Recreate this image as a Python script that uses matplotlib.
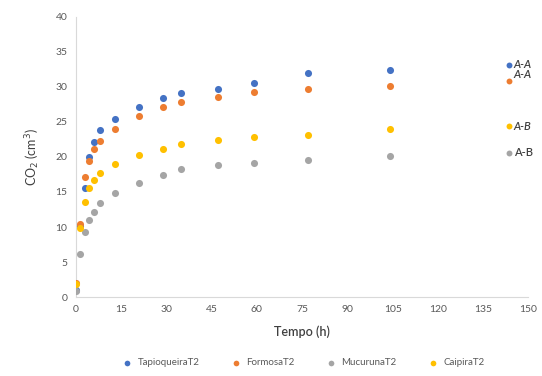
import matplotlib
matplotlib.use("Agg")
import matplotlib.pyplot as plt

# CO2 release over time, four cassava varieties (T2)
tempo = [0, 1.5, 3, 4.5, 6, 8, 13, 21, 29, 35, 47, 59, 77, 104]
tapioqueira = [1.0, 10.2, 15.5, 20.0, 22.1, 23.9, 25.4, 27.2, 28.4, 29.2, 29.7, 30.5, 32.0, 32.4]
formosa = [2.0, 10.5, 17.2, 19.4, 21.1, 22.3, 24.0, 25.9, 27.2, 27.9, 28.6, 29.3, 29.7, 30.1]
mucuruna = [0.8, 6.1, 9.3, 11.0, 12.2, 13.4, 14.9, 16.3, 17.4, 18.3, 18.9, 19.2, 19.6, 20.1]
caipira = [1.8, 9.8, 13.6, 15.5, 16.7, 17.7, 19.0, 20.3, 21.2, 21.9, 22.4, 22.8, 23.2, 23.95]

series_names = ["TapioqueiraT2", "FormosaT2", "MucurunaT2", "CaipiraT2"]
series_vals = [tapioqueira, formosa, mucuruna, caipira]
colors = ["#4472C4", "#ED7D31", "#A5A5A5", "#FFC000"]

# significance letters next to the final values
letras = ["A-A", "A-A", "A-B", "A-B"]
letra_cor = ["#4472C4", "#ED7D31", "#FFC000", "#A5A5A5"]
letra_t = 143.5
letra_y = [33.1, 30.8, 24.4, 20.6]
letra_txt_y = [33.2, 31.8, 24.4, 20.6]
letra_estilo = ["italic", "italic", "italic", "normal"]

plt.rcParams['font.family'] = ['Lato', 'DejaVu Sans']

fig = plt.figure(figsize=(5.42, 3.76), dpi=100)
ax = fig.add_axes([0.140, 0.210, 0.835, 0.745])

for name, vals, c in zip(series_names, series_vals, colors):
    ax.scatter(tempo, vals, s=26, color=c, label=name, zorder=3, linewidths=0)

for txt, c, yv, ty, st in zip(letras, letra_cor, letra_y, letra_txt_y, letra_estilo):
    ax.scatter([letra_t], [yv], s=18, color=c, zorder=3, linewidths=0)
    ax.text(letra_t + 1.6, ty, txt, fontsize=8, style=st, weight="semibold",
            color="#404040", va="center", ha="left")

ax.set_xlim(0, 150)
ax.set_ylim(0, 40)
ax.set_xticks(range(0, 151, 15))
ax.set_yticks(range(0, 41, 5))
ax.tick_params(length=0, labelsize=7.5, labelcolor="#595959", pad=6)

for side in ["top", "right"]:
    ax.spines[side].set_visible(False)
ax.spines["left"].set_color("#D9D9D9")
ax.spines["bottom"].set_color("#D9D9D9")

ax.set_xlabel("Tempo (h)", fontsize=9, color="#404040", labelpad=8, weight="semibold")
ax.set_ylabel("CO$_2$ (cm$^3$)", fontsize=9, color="#404040", labelpad=10)

fig.legend(loc="lower center", bbox_to_anchor=(0.555, 0.0), ncol=4,
           frameon=False, fontsize=7, labelcolor="#595959",
           handletextpad=0.1, columnspacing=2.7, markerscale=0.8)

fig.savefig("out.png", dpi=100)
